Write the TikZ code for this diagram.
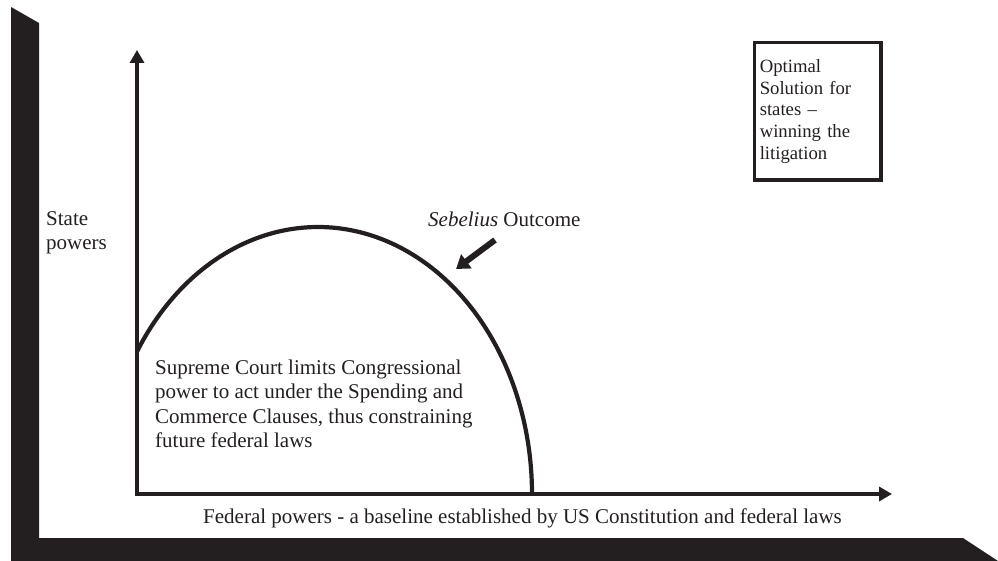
\documentclass[tikz,border=0pt]{standalone}
\usepackage{fontspec}
\setmainfont{Liberation Serif}
\usetikzlibrary{arrows.meta}
\definecolor{ink}{HTML}{231F20}
\begin{document}
\begin{tikzpicture}[x=1pt,y=-1pt,
  axisline/.style={draw=ink, line width=4.5pt,
    {Triangle[length=13pt,width=14pt]}-{Triangle[length=13pt,width=14pt]}},
  curveline/.style={draw=ink, line width=4.2pt},
  pointer/.style={draw=ink, line width=6pt, -{Triangle[length=13pt,width=17pt]}},
  lbl/.style={inner sep=0pt, align=left, text=ink, font=\fontsize{21}{24.5}\selectfont},
  optbox/.style={draw=ink, line width=3.5pt, anchor=north west, align=left,
    text=ink, font=\fontsize{18.7}{21.7}\selectfont,
    inner xsep=5.25pt, inner ysep=0pt, text width=116pt,
    minimum width=126.5pt, minimum height=137.5pt}
]
\useasboundingbox (0,0) rectangle (998,561);
% frame
\fill[ink] (11,7) -- (39,23) -- (39,538) -- (963,538) -- (998,561) -- (11,561) -- cycle;
% axes
\coordinate (ytip) at (137,50);
\coordinate (origin) at (137,494);
\coordinate (xtip) at (892,494);
\draw[axisline] (ytip) -- (origin) -- (xtip);
% arch
\draw[curveline] plot[domain=147.75:0, samples=80, smooth] ({318+214*cos(\x)}, {494-267*sin(\x)});
% labels
\node[lbl, anchor=north west] (state) at (46,211) {State\\powers};
\node[lbl, anchor=north west] (court) at (155,359.7) {Supreme Court limits Congressional\\power to act under the Spending and\\Commerce Clauses, thus constraining\\future federal laws};
\node[lbl, anchor=base west] (federal) at (203,523) {Federal powers - a baseline established by US Constitution and federal laws};
\node[lbl, anchor=base west] (outcome) at (428,227) {\textit{Sebelius} Outcome};
\node[optbox] (optimal) at (752.75,40.75) {Optimal\\Solution for\\states –\\winning the\\litigation};
% pointer arrow
\coordinate (ptail) at (495,240);
\coordinate (phead) at (456,269);
\draw[pointer] (ptail) -- (phead);
\end{tikzpicture}
\end{document}
